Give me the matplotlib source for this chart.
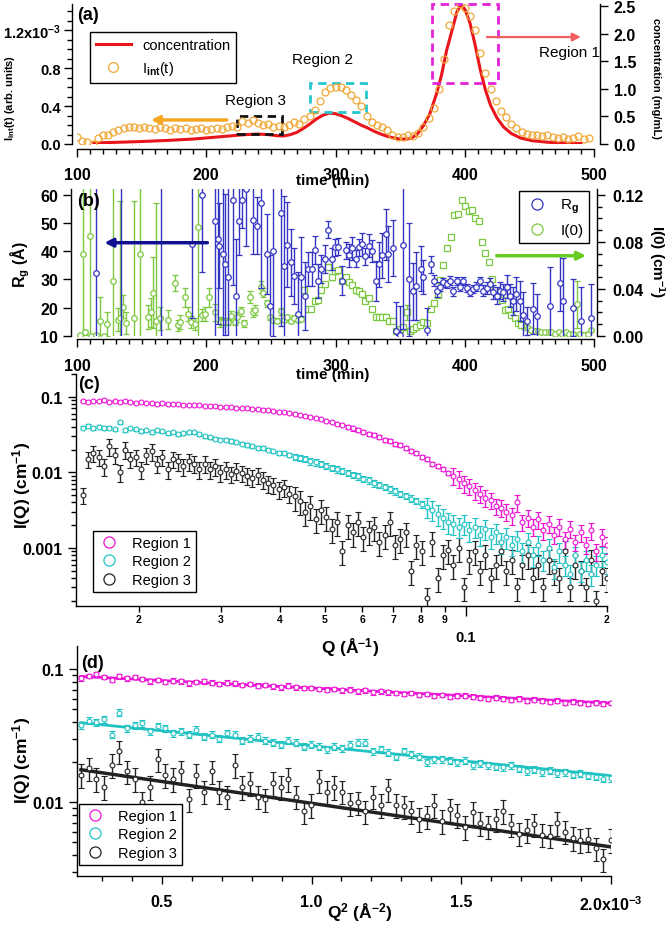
import numpy as np
import matplotlib
matplotlib.use('Agg')
import matplotlib.pyplot as plt
from matplotlib.ticker import MultipleLocator, FixedLocator, FixedFormatter, NullFormatter, LogLocator
from matplotlib.lines import Line2D
from matplotlib.patches import Rectangle

plt.rcParams['font.family'] = ['Liberation Sans', 'DejaVu Sans']
plt.rcParams['font.weight'] = 'bold'
plt.rcParams['mathtext.fontset'] = 'custom'
plt.rcParams['mathtext.rm'] = 'Liberation Sans'
plt.rcParams['mathtext.bf'] = 'Liberation Sans:bold'
plt.rcParams['mathtext.it'] = 'Liberation Sans:italic'
plt.rcParams['axes.linewidth'] = 1.0

#%% data (a): integrated intensity and concentration vs time
time_a = np.arange(100, 500, 4)
iint = [0.07, 0.03, 0.02, 0.00, 0.06, 0.09, 0.10, 0.13, 0.15, 0.17,
        0.18, 0.18, 0.17, 0.18, 0.17, 0.16, 0.18, 0.17, 0.15, 0.17,
        0.16, 0.17, 0.15, 0.16, 0.17, 0.15, 0.16, 0.17, 0.16, 0.18,
        0.19, 0.18, 0.24, 0.22, 0.25, 0.22, 0.20, 0.21, 0.18, 0.19,
        0.18, 0.20, 0.23, 0.21, 0.26, 0.30, 0.36, 0.45, 0.55, 0.59,
        0.60, 0.60, 0.57, 0.52, 0.46, 0.40, 0.30, 0.23, 0.20, 0.18,
        0.15, 0.10, 0.07, 0.07, 0.09, 0.08, 0.12, 0.18, 0.27, 0.38,
        0.58, 0.90, 1.25, 1.40, 1.47, 1.43, 1.35, 1.20, 0.96, 0.75,
        0.58, 0.45, 0.35, 0.28, 0.21, 0.17, 0.13, 0.11, 0.10, 0.09,
        0.08, 0.09, 0.07, 0.06, 0.07, 0.05, 0.06, 0.08, 0.05, 0.06]  # x1e-3
conc_t = [113, 130, 150, 170, 190, 210, 220, 230, 240, 248, 255, 260, 265, 270, 275,
          280, 285, 290, 295, 300, 305, 310, 315, 320, 325, 330, 335, 340, 345, 350,
          355, 358, 363, 368, 373, 378, 382, 386, 390, 394, 397, 400, 404, 408, 412,
          416, 420, 425, 430, 436, 443, 452, 465, 480, 490]
conc = [0.02, 0.03, 0.045, 0.065, 0.09, 0.13, 0.15, 0.17, 0.18, 0.17, 0.15, 0.145, 0.17, 0.21, 0.28,
        0.36, 0.45, 0.52, 0.56, 0.55, 0.51, 0.46, 0.40, 0.34, 0.29, 0.23, 0.18, 0.14, 0.11, 0.09,
        0.09, 0.10, 0.17, 0.33, 0.55, 0.90, 1.25, 1.70, 2.05, 2.40, 2.52, 2.45, 2.20, 1.80, 1.35,
        0.98, 0.70, 0.47, 0.31, 0.19, 0.11, 0.06, 0.03, 0.015, 0.01]

#%% data (b): Rg and I(0) vs time
rg_t = [115, 134, 165, 189, 197, 207, 209, 210, 212.7, 214.6, 217, 220.5, 223, 225, 227.6,
        231, 236.4, 239, 242, 246.8, 249, 252, 257.6, 260, 262.7, 265.6, 268, 270.7, 273.6, 276.5,
        279, 281.6, 284, 286.7, 289, 292, 294.5, 297.4, 299.7, 302, 304.8, 308, 310.5, 313, 315.5,
        318, 320.7, 323, 325.7, 328.3, 331, 333.6, 336, 339, 341, 344.7, 347, 349.6, 352.4, 357,
        360, 362.6, 366, 368, 371, 373.6, 376, 378.7, 381, 383.5, 386, 388.7, 391, 393.7, 396,
        399, 401.5, 404, 406.7, 409, 411.7, 414.5, 417, 419.5, 422, 424.7, 427, 429.7, 432.5, 435,
        437.5, 440, 442.5, 445, 448, 453, 456, 466, 474, 476, 484, 490, 498]
rg = [32.3, 66, 66, 42.4, 59.8, 50.8, 44.4, 42, 39, 35.3, 31, 58.2, 24.3, 50.8, 58.2,
      62, 51, 49, 57, 39, 20.6, 40, 53.5, 34.6, 42.3, 36, 31.3, 17.8, 31, 24,
      33.8, 33.8, 40.3, 29.6, 33.8, 37.3, 47.6, 37.3, 41.4, 41.5, 29.6, 40.3, 38.5, 41, 37.3,
      41.4, 42.4, 38.2, 42, 40, 29.4, 35.3, 38.5, 46, 39, 41.2, 11.9, 10.5, 42.3, 30,
      25.8, 27.8, 33.8, 31, 12, 35.3, 29.6, 25.8, 27.5, 29.0, 28.4, 29.6, 25.8, 29.4, 27.3,
      29.4, 27.0, 25.5, 26.7, 27.5, 29.4, 26.0, 27.0, 28.4, 25.5, 24.3, 26.0, 25.5, 27.5, 24.3,
      22.5, 25.0, 22.3, 17.5, 15.4, 19.6, 17, 20.5, 28.7, 22.5, 20, 15.4, 16.4]
rg_err = [40, 60, 60, 26, 27, 42, 30, 15, 30, 25, 35, 30, 20, 12, 10,
          20, 12, 10, 30, 14, 18, 30, 40, 25, 15, 12, 10, 15, 14, 12,
          6, 6, 5, 6, 5, 5, 3, 4, 3, 3, 5, 3, 4, 4, 3,
          3, 4, 3, 4, 4, 7, 8, 8, 9, 10, 10, 10, 10, 30, 20,
          10, 12, 8, 6, 8, 3, 2, 2, 1.5, 1.5, 1.5, 1.5, 1.5, 1.5, 1.5,
          1.5, 1.5, 1.5, 1.5, 1.5, 1.5, 2, 2, 2, 2.5, 3, 3, 3, 4, 4,
          5, 6, 7, 8, 5, 9, 8, 14, 10, 15, 10, 12, 12]

i0_t = [102, 105, 106, 110, 111, 115, 118, 121, 123, 128, 131.5, 133, 135.6, 138, 144,
        149, 155, 157, 159, 161, 164, 170.5, 176, 178, 180, 183.6, 186, 188, 191, 193.6,
        196.5, 199, 202, 207, 211, 213, 217, 219, 222, 224, 227, 229, 234, 236, 238,
        242, 244, 246.8, 249, 251.6, 255, 257.6, 260, 262.7, 265.6, 268, 270.7, 273.6, 275.8, 278.5,
        281, 284, 286.7, 289, 292, 294.5, 297.4, 299.7, 302, 304.8, 308, 310.5, 313, 315.6, 318,
        320.7, 323, 325.7, 328.3, 331, 333.6, 336, 339, 341.6, 344.7, 347, 349.6, 352.4, 355, 357.6,
        360, 362.6, 365, 368, 371, 373.6, 376, 379, 381, 383.5, 386.5, 389, 392, 395, 397.6,
        400, 403, 405.7, 408, 411, 413, 416, 418.5, 421, 423.6, 426, 428.7, 431, 433.6, 436,
        438.6, 441, 443.6, 446, 448.7, 451, 454, 457, 459, 462, 465, 467, 470, 473, 475,
        478, 481, 484, 486.6, 489, 492, 495, 498]
i0 = [0.001, 0.07, 0.003, 0.085, 0.0, 0.001, 0.013, 0.0, 0.01, 0.047, 0.014, 0.015, 0.025, 0.011, 0.015,
      0.07, 0.016, 0.02, 0.037, 0.013, 0.015, 0.014, 0.045, 0.009, 0.012, 0.033, 0.019, 0.012, 0.01, 0.093,
      0.018, 0.019, 0.033, 0.02, 0.012, 0.012, 0.012, 0.017, 0.012, 0.016, 0.021, 0.011, 0.033, 0.02, 0.022,
      0.042, 0.037, 0.028, 0.016, 0.0137, 0.013, 0.021, 0.0137, 0.016, 0.013, 0.0155, 0.0137, 0.0145, 0.039, 0.023,
      0.023, 0.030, 0.031, 0.039, 0.044, 0.059, 0.050, 0.055, 0.056, 0.047, 0.050, 0.046, 0.043, 0.039, 0.038,
      0.036, 0.030, 0.032, 0.023, 0.0165, 0.0165, 0.0165, 0.0165, 0.013, 0.013, 0.0045, 0.006, 0.0075, 0.020, 0.0045,
      0.006, 0.008, 0.0095, 0.012, 0.011, 0.023, 0.028, 0.035, 0.048, 0.060, 0.075, 0.084, 0.103, 0.104, 0.116,
      0.111, 0.106, 0.107, 0.100, 0.098, 0.080, 0.071, 0.063, 0.0485, 0.039, 0.035, 0.031, 0.022, 0.023, 0.018,
      0.0155, 0.011, 0.0093, 0.008, 0.007, 0.005, 0.004, 0.004, 0.003, 0.003, 0.003, 0.003, 0.002, 0.003, 0.002,
      0.003, 0.002, 0.002, 0.027, 0.002, 0.001, 0.002, 0.005]
i0_err = [0.001, 0.12, 0.002, 0.12, 0.001, 0.001, 0.02, 0.001, 0.01, 0.12, 0.01, 0.1, 0.01, 0.009, 0.1,
          0.12, 0.01, 0.012, 0.03, 0.1, 0.01, 0.008, 0.007, 0.005, 0.006, 0.008, 0.006, 0.005, 0.005, 0.12,
          0.005, 0.006, 0.008, 0.007, 0.004, 0.003, 0.003, 0.004, 0.003, 0.004, 0.004, 0.003, 0.005, 0.004, 0.004,
          0.005, 0.004, 0.003, 0.002, 0.002, 0.002, 0.003, 0.002, 0.002, 0.002, 0.002, 0.002, 0.002, 0.002, 0.002,
          0.002, 0.002, 0.002, 0.002, 0.002, 0.002, 0.002, 0.002, 0.002, 0.002, 0.002, 0.002, 0.002, 0.002, 0.002,
          0.002, 0.002, 0.002, 0.002, 0.002, 0.002, 0.002, 0.002, 0.002, 0.002, 0.002, 0.002, 0.002, 0.006, 0.002,
          0.002, 0.002, 0.002, 0.002, 0.002, 0.002, 0.002, 0.002, 0.001, 0.001, 0.001, 0.001, 0.001, 0.001, 0.001,
          0.001, 0.001, 0.001, 0.001, 0.001, 0.001, 0.001, 0.001, 0.001, 0.001, 0.001, 0.001, 0.001, 0.001, 0.001,
          0.001, 0.001, 0.001, 0.001, 0.001, 0.001, 0.001, 0.001, 0.001, 0.001, 0.001, 0.001, 0.001, 0.001, 0.001,
          0.001, 0.001, 0.001, 0.02, 0.001, 0.001, 0.001, 0.001]

#%% data (c): I(Q) vs Q for the three regions
q_c = np.geomspace(0.0152, 0.2, 100)
reg1_c = [0.088, 0.086, 0.089, 0.087, 0.090, 0.086, 0.087, 0.085, 0.088, 0.084,
          0.083, 0.085, 0.082, 0.083, 0.081, 0.082, 0.080, 0.079, 0.080, 0.078,
          0.078, 0.077, 0.078, 0.076, 0.075, 0.075, 0.074, 0.073, 0.073, 0.072,
          0.071, 0.070, 0.069, 0.068, 0.067, 0.066, 0.065, 0.063, 0.062, 0.061,
          0.059, 0.057, 0.056, 0.054, 0.052, 0.050, 0.048, 0.046, 0.044, 0.042,
          0.040, 0.038, 0.036, 0.034, 0.032, 0.031, 0.029, 0.027, 0.026, 0.024,
          0.023, 0.021, 0.019, 0.018, 0.016, 0.015, 0.013, 0.012, 0.011, 0.0098,
          0.0090, 0.0082, 0.0072, 0.0066, 0.0058, 0.0052, 0.0046, 0.0043, 0.0036, 0.0034,
          0.0030, 0.0027, 0.0040, 0.0022, 0.0025, 0.0019, 0.0024, 0.0017, 0.0021, 0.0015,
          0.0019, 0.0013, 0.0018, 0.0012, 0.0016, 0.0011, 0.0017, 0.0009, 0.0014, 0.0011]
reg2_c = [0.039, 0.041, 0.038, 0.040, 0.038, 0.039, 0.037, 0.046, 0.036, 0.038,
          0.037, 0.035, 0.036, 0.034, 0.036, 0.035, 0.033, 0.034, 0.032, 0.033,
          0.034, 0.034, 0.032, 0.030, 0.029, 0.028, 0.027, 0.027, 0.026, 0.025,
          0.024, 0.023, 0.022, 0.021, 0.021, 0.020, 0.019, 0.018, 0.018, 0.017,
          0.016, 0.0155, 0.015, 0.014, 0.0135, 0.013, 0.0122, 0.0115, 0.011, 0.0104,
          0.0098, 0.0092, 0.0088, 0.0082, 0.0078, 0.0072, 0.0068, 0.0064, 0.0060, 0.0056,
          0.0052, 0.0049, 0.0045, 0.0042, 0.0038, 0.0035, 0.0032, 0.0028, 0.0025, 0.0022,
          0.0021, 0.0019, 0.0021, 0.0017, 0.0019, 0.0015, 0.0018, 0.0014, 0.0016, 0.0012,
          0.0014, 0.0011, 0.0013, 0.0009, 0.0012, 0.0008, 0.0011, 0.0007, 0.0010, 0.00055,
          0.0009, 0.0006, 0.00045, 0.0008, 0.0005, 0.0007, 0.00045, 0.0006, 0.0008, 0.00065]
reg3_c = [0.0050, 0.015, 0.018, 0.016, 0.012, 0.022, 0.017, 0.010, 0.020, 0.015,
          0.016, 0.011, 0.017, 0.019, 0.013, 0.016, 0.011, 0.015, 0.014, 0.012,
          0.014, 0.013, 0.011, 0.013, 0.011, 0.012, 0.010, 0.011, 0.0095, 0.0105,
          0.0098, 0.0090, 0.0085, 0.0092, 0.0080, 0.0072, 0.0068, 0.0060, 0.0063, 0.0052,
          0.0048, 0.0042, 0.0030, 0.0036, 0.0024, 0.0032, 0.0026, 0.0018, 0.0022, 0.0009,
          0.0020, 0.0016, 0.0022, 0.0014, 0.0017, 0.0019, 0.0012, 0.0015, 0.0022, 0.0011,
          0.0013, 0.0016, 0.0005, 0.0011, 0.0009, 0.00022, 0.0012, 0.0004, 0.0008, 0.00095,
          0.0006, 0.0010, 0.0003, 0.0007, 0.0009, 0.0005, 0.0008, 0.0004, 0.0006, 0.0009,
          0.0005, 0.0007, 0.0003, 0.0006, 0.0008, 0.0004, 0.0006, 0.0003, 0.0007, 0.0005,
          0.0004, 0.0009, 0.0003, 0.0006, 0.0005, 0.0003, 0.0007, 0.0002, 0.0005, 0.0004]
rel1_c = [0.03] * 50 + [0.06] * 20 + [0.25] * 30
rel2_c = [0.05] * 40 + [0.10] * 25 + [0.30] * 35
rel3_c = [0.25] * 40 + [0.35] * 60

#%% data (d): Guinier plot
q2_d = np.linspace(0.23e-3, 2.0e-3, 70)
reg1_d = [0.085, 0.089, 0.091, 0.087, 0.083, 0.088, 0.085, 0.087, 0.084, 0.081,
          0.083, 0.080, 0.082, 0.081, 0.078, 0.080, 0.081, 0.079, 0.077, 0.079,
          0.078, 0.076, 0.077, 0.075, 0.076, 0.074, 0.073, 0.075, 0.073, 0.072,
          0.072, 0.071, 0.070, 0.071, 0.069, 0.070, 0.068, 0.069, 0.067, 0.068,
          0.067, 0.066, 0.065, 0.066, 0.064, 0.065, 0.063, 0.064, 0.062, 0.063,
          0.063, 0.062, 0.061, 0.060, 0.061, 0.060, 0.059, 0.060, 0.058, 0.059,
          0.058, 0.057, 0.058, 0.056, 0.057, 0.056, 0.055, 0.056, 0.055, 0.0555]
reg2_d = [0.038, 0.041, 0.040, 0.042, 0.032, 0.047, 0.036, 0.038, 0.039, 0.034,
          0.037, 0.036, 0.033, 0.034, 0.032, 0.035, 0.031, 0.032, 0.030, 0.033,
          0.032, 0.029, 0.030, 0.031, 0.029, 0.028, 0.027, 0.029, 0.028, 0.026,
          0.027, 0.026, 0.025, 0.026, 0.0255, 0.027, 0.028, 0.028, 0.024, 0.025,
          0.0235, 0.022, 0.024, 0.023, 0.022, 0.020, 0.021, 0.021, 0.0205, 0.020,
          0.0205, 0.019, 0.0195, 0.019, 0.0185, 0.0182, 0.019, 0.0178, 0.017, 0.0175,
          0.0168, 0.0172, 0.0165, 0.0168, 0.0160, 0.0163, 0.0158, 0.0155, 0.0150, 0.0151]
reg3_d = [0.016, 0.018, 0.015, 0.013, 0.019, 0.024, 0.017, 0.015, 0.010, 0.013,
          0.021, 0.016, 0.015, 0.017, 0.0105, 0.016, 0.012, 0.017, 0.012, 0.011,
          0.019, 0.013, 0.014, 0.011, 0.0105, 0.014, 0.013, 0.015, 0.011, 0.0085,
          0.0095, 0.0145, 0.012, 0.013, 0.012, 0.0098, 0.0100, 0.0085, 0.011, 0.0095,
          0.0125, 0.0095, 0.0093, 0.0085, 0.0075, 0.0078, 0.0095, 0.0072, 0.0088, 0.0080,
          0.0065, 0.0084, 0.0070, 0.0066, 0.0074, 0.0086, 0.0068, 0.0058, 0.0062, 0.0068,
          0.0057, 0.0056, 0.0070, 0.0060, 0.0054, 0.0052, 0.0053, 0.0045, 0.0037, 0.0052]
rel1_d, rel2_d, rel3_d = 0.04, 0.06, 0.20
fit_q2 = [0.23e-3, 2.0e-3]
fit1 = [0.088, 0.0553]
fit2 = [0.0395, 0.0158]
fit3 = [0.0175, 0.0046]

#%% colours
ORANGE = '#f0a838'
RED = '#e8151b'
BLUE = '#3434c4'
GREEN = '#7cc840'
MAG = '#ec14d4'
CYAN = '#20c2c2'
BLK = '#222222'

W, H = 666, 928
fig = plt.figure(figsize=(W / 100, H / 100), dpi=100)


def box(l, t, r, b):
    return [l / W, 1 - b / H, (r - l) / W, (b - t) / H]


def ftext(x, y, s, **kw):
    fig.text(x / W, 1 - y / H, s, ha=kw.pop('ha', 'center'), va=kw.pop('va', 'center'), **kw)


def style(ax):
    ax.tick_params(which='major', direction='out', length=6, width=1, labelsize=11.5)
    ax.tick_params(which='minor', direction='out', length=3.5, width=1)


#%% (a)
ax_a = fig.add_axes(box(77, 5, 594, 145))
ax_a2 = ax_a.twinx()
ax_a.set_zorder(ax_a2.get_zorder() + 1)
ax_a.patch.set_visible(False)
ax_a2.plot(conc_t, conc, color=RED, lw=2.2)
ax_a.plot(time_a, np.array(iint) * 1e-3, 'o', ms=5, mfc='none', mec=ORANGE, mew=0.9)
ax_a.set_xlim(100, 500)
ax_a.set_ylim(0, 1.474e-3)
ax_a2.set_ylim(0, 2.54)
for a in (ax_a, ax_a2):
    a.spines['top'].set_visible(False)
    style(a)
ax_a.spines['right'].set_visible(False)
ax_a.spines['left'].set_position(('outward', 3.6))
ax_a.spines['bottom'].set_position(('outward', 3.6))
ax_a2.spines['left'].set_visible(False)
ax_a2.spines['bottom'].set_visible(False)
ax_a2.spines['right'].set_position(('outward', 4.3))
ax_a.xaxis.set_major_locator(MultipleLocator(100))
ax_a.xaxis.set_minor_locator(MultipleLocator(10))
ax_a.tick_params(axis='x', pad=7)
ax_a.tick_params(axis='y', labelsize=10.5, pad=2)
ax_a.yaxis.set_major_locator(FixedLocator([0, 0.4e-3, 0.8e-3, 1.2e-3]))
ax_a.yaxis.set_major_formatter(FixedFormatter(['0.0', '0.4', '0.8', r'1.2x10$^{\mathbf{-3}}$']))
ax_a.yaxis.set_minor_locator(MultipleLocator(0.1e-3))
ax_a2.yaxis.set_major_locator(MultipleLocator(0.5))
ax_a2.yaxis.set_major_formatter(matplotlib.ticker.FormatStrFormatter('%.1f'))
ax_a2.tick_params(axis='y', pad=4)

ax_a.add_patch(Rectangle((223.8, 0.105e-3), 34.8, 0.19e-3, fill=False, ec='#111111', lw=2, ls=(0, (3, 2)), clip_on=False))
ax_a.add_patch(Rectangle((280.3, 0.337e-3), 43.3, 0.305e-3, fill=False, ec='#26c6cc', lw=2, ls=(0, (3, 2)), clip_on=False))
ax_a.add_patch(Rectangle((374.7, 0.642e-3), 51.0, 0.832e-3, fill=False, ec='#e424d8', lw=2, ls=(0, (3, 2)), clip_on=False))
ax_a.annotate('', xy=(155, 0.253e-3), xytext=(218, 0.253e-3), annotation_clip=False,
              arrowprops=dict(arrowstyle='-|>', color='#f5a623', lw=2.5, mutation_scale=12))
ax_a.annotate('', xy=(492, 1.126e-3), xytext=(415, 1.126e-3), annotation_clip=False,
              arrowprops=dict(arrowstyle='-|>', color='#f06060', lw=1.6, mutation_scale=12))
ax_a.text(290, 0.895e-3, 'Region 2', fontsize=11, fontweight='normal', ha='center', va='center')
ax_a.text(238, 0.463e-3, 'Region 3', fontsize=11, fontweight='normal', ha='center', va='center')
ax_a.text(481, 0.968e-3, 'Region 1', fontsize=11, fontweight='normal', ha='center', va='center')
h_a = [Line2D([], [], color=RED, lw=2.2),
       Line2D([], [], ls='none', marker='o', ms=7, mfc='none', mec=ORANGE, mew=0.9)]
leg = ax_a.legend(h_a, ['concentration', r'I$_{\mathrm{int}}$(t)'], loc='upper left',
                  bbox_to_anchor=(90 / W, 1 - 33 / H), bbox_transform=fig.transFigure,
                  borderaxespad=0, fancybox=False, framealpha=1, edgecolor='black',
                  prop={'size': 10.5, 'weight': 'normal'}, handlelength=2.4, borderpad=0.4)
leg.get_frame().set_linewidth(1)

#%% (b)
ax_b = fig.add_axes(box(77, 190, 594, 337))
ax_b2 = ax_b.twinx()
ax_b.set_zorder(ax_b2.get_zorder() + 1)
ax_b.patch.set_visible(False)
i0_t_arr = np.array(i0_t)
sq = (i0_t_arr >= 275) & (i0_t_arr <= 445)
for m, mk in ((~sq, 'o'), (sq, 's')):
    ax_b2.errorbar(i0_t_arr[m], np.array(i0)[m], yerr=np.array(i0_err)[m], fmt=mk, ms=4,
                   mfc='white', mec=GREEN, mew=0.9, ecolor=GREEN, elinewidth=1, capsize=2, capthick=1)
ax_b.errorbar(rg_t, rg, yerr=rg_err, fmt='o', ms=4, mfc='white', mec=BLUE, mew=0.9,
              ecolor=BLUE, elinewidth=1, capsize=2, capthick=1)
ax_b.set_xlim(100, 500)
ax_b.set_ylim(10, 62)
ax_b2.set_ylim(0, 0.1251)
for a in (ax_b, ax_b2):
    a.spines['top'].set_visible(False)
    style(a)
ax_b.spines['right'].set_visible(False)
ax_b.spines['left'].set_position(('outward', 4))
ax_b.spines['bottom'].set_position(('outward', 2.2))
ax_b2.spines['left'].set_visible(False)
ax_b2.spines['bottom'].set_visible(False)
ax_b2.spines['right'].set_position(('outward', 2.2))
ax_b.xaxis.set_major_locator(MultipleLocator(100))
ax_b.xaxis.set_minor_locator(MultipleLocator(10))
ax_b.tick_params(axis='x', pad=8)
ax_b.yaxis.set_major_locator(MultipleLocator(10))
ax_b2.yaxis.set_major_locator(MultipleLocator(0.04))
ax_b2.yaxis.set_minor_locator(MultipleLocator(0.01))
ax_b2.yaxis.set_major_formatter(matplotlib.ticker.FormatStrFormatter('%.2f'))
ax_b2.tick_params(axis='y', pad=5)
ax_b.annotate('', xy=(119, 43), xytext=(203, 43), annotation_clip=False,
              arrowprops=dict(arrowstyle='-|>', color='#101090', lw=2.5, mutation_scale=12))
ax_b.annotate('', xy=(496, 38.4), xytext=(422.6, 38.4), annotation_clip=False,
              arrowprops=dict(arrowstyle='-|>', color='#66cc22', lw=2.5, mutation_scale=12))
h_b = [Line2D([], [], ls='none', marker='o', ms=8, mfc='none', mec=BLUE, mew=0.9),
       Line2D([], [], ls='none', marker='o', ms=8, mfc='none', mec=GREEN, mew=0.9)]
leg = ax_b.legend(h_b, [r'R$_{\mathrm{g}}$', 'I(0)'], loc='upper left',
                  bbox_to_anchor=(519 / W, 1 - 192 / H), bbox_transform=fig.transFigure,
                  borderaxespad=0, fancybox=False, framealpha=1, edgecolor='black',
                  prop={'size': 11, 'weight': 'normal'}, handlelength=1.5, borderpad=0.4)
leg.get_frame().set_linewidth(1)

#%% (c)
ax_c = fig.add_axes(box(76, 375, 607, 607))
q = np.array(q_c)
for vals, rel, col in ((reg3_c, rel3_c, BLK), (reg2_c, rel2_c, CYAN), (reg1_c, rel1_c, MAG)):
    v = np.array(vals)
    ax_c.errorbar(q, v, yerr=v * np.array(rel), fmt='o', ms=3.5, mfc='white', mec=col, mew=0.8,
                  ecolor=col, elinewidth=1, capsize=2, capthick=1)
ax_c.set_xscale('log')
ax_c.set_yscale('log')
ax_c.set_xlim(0.0147, 0.2)
ax_c.set_ylim(1.7e-4, 0.2)
for s in ('top', 'right'):
    ax_c.spines[s].set_visible(False)
style(ax_c)
ax_c.xaxis.set_major_locator(FixedLocator([0.1]))
ax_c.xaxis.set_major_formatter(FixedFormatter(['0.1']))
ax_c.xaxis.set_minor_locator(FixedLocator([0.02, 0.03, 0.04, 0.05, 0.06, 0.07, 0.08, 0.09, 0.2]))
ax_c.xaxis.set_minor_formatter(FixedFormatter(['2', '3', '4', '5', '6', '7', '8', '9', '2']))
ax_c.tick_params(axis='x', which='major', length=7, pad=10, labelsize=10.5)
ax_c.tick_params(axis='x', which='minor', length=4, pad=2, labelsize=7.5)
ax_c.yaxis.set_major_locator(FixedLocator([0.001, 0.01, 0.1]))
ax_c.yaxis.set_major_formatter(FixedFormatter(['0.001', '0.01', '0.1']))
ax_c.yaxis.set_minor_locator(LogLocator(base=10, subs=np.arange(2, 10)))
ax_c.yaxis.set_minor_formatter(NullFormatter())
h_c = [Line2D([], [], ls='none', marker='o', ms=8, mfc='none', mec=c, mew=0.9) for c in (MAG, CYAN, BLK)]
leg = ax_c.legend(h_c, ['Region 1', 'Region 2', 'Region 3'], loc='upper left',
                  bbox_to_anchor=(93 / W, 1 - 532 / H), bbox_transform=fig.transFigure,
                  borderaxespad=0, fancybox=False, framealpha=1, edgecolor='black',
                  prop={'size': 10.5, 'weight': 'normal'}, handlelength=1.5, borderpad=0.35,
                  labelspacing=0.3)
leg.get_frame().set_linewidth(1)

#%% (d)
ax_d = fig.add_axes(box(77, 647, 611, 877))
for vals, rel, col, fit, lw in ((reg3_d, rel3_d, BLK, fit3, 2.5), (reg2_d, rel2_d, CYAN, fit2, 2),
                                (reg1_d, rel1_d, MAG, fit1, 2)):
    v = np.array(vals)
    ax_d.plot(fit_q2, fit, color=col, lw=lw, zorder=1)
    ax_d.errorbar(q2_d, v, yerr=v * rel, fmt='o', ms=3.5, mfc='white', mec=col, mew=0.8,
                  ecolor=col, elinewidth=1, capsize=2, capthick=1, zorder=2)
ax_d.set_yscale('log')
ax_d.set_xlim(0.2167e-3, 2.0e-3)
ax_d.set_ylim(0.00278, 0.149)
for s in ('top', 'right'):
    ax_d.spines[s].set_visible(False)
style(ax_d)
ax_d.xaxis.set_major_locator(FixedLocator([0.5e-3, 1.0e-3, 1.5e-3, 2.0e-3]))
ax_d.xaxis.set_major_formatter(FixedFormatter(['0.5', '1.0', '1.5', r'2.0x10$^{\mathbf{-3}}$']))
ax_d.xaxis.set_minor_locator(MultipleLocator(0.1e-3))
ax_d.tick_params(axis='x', pad=7)
ax_d.yaxis.set_major_locator(FixedLocator([0.01, 0.1]))
ax_d.yaxis.set_major_formatter(FixedFormatter(['0.01', '0.1']))
ax_d.yaxis.set_minor_locator(LogLocator(base=10, subs=np.arange(2, 10)))
ax_d.yaxis.set_minor_formatter(NullFormatter())
leg = ax_d.legend(h_c, ['Region 1', 'Region 2', 'Region 3'], loc='upper left',
                  bbox_to_anchor=(79 / W, 1 - 805 / H), bbox_transform=fig.transFigure,
                  borderaxespad=0, fancybox=False, framealpha=1, edgecolor='black',
                  prop={'size': 10.5, 'weight': 'normal'}, handlelength=1.5, borderpad=0.35,
                  labelspacing=0.3)
leg.get_frame().set_linewidth(1)

#%% labels
ftext(333, 181, 'time (min)', fontsize=11)
ftext(333, 375, 'time (min)', fontsize=11)
ftext(10, 98, r'I$_{\mathbf{int}}$(t) (arb. units)', rotation=90, fontsize=8)
ftext(656, 78, 'concentration (mg/mL)', rotation=-90, fontsize=8)
ftext(20, 265, r'R$_{\mathbf{g}}$ (Å)', rotation=90, fontsize=11.5)
ftext(657, 262, r'I(0) (cm$^{\mathbf{-1}}$)', rotation=-90, fontsize=11)
ftext(22, 485, r'I(Q) (cm$^{\mathbf{-1}}$)', rotation=90, fontsize=12.5)
ftext(350, 648, r'Q (Å$^{\mathbf{-1}}$)', fontsize=12.5)
ftext(22, 760, r'I(Q) (cm$^{\mathbf{-1}}$)', rotation=90, fontsize=12.5)
ftext(360, 913, r'Q$^{\mathbf{2}}$ (Å$^{\mathbf{-2}}$)', fontsize=12.5)
ftext(77, 15, '(a)', fontsize=13, ha='left')
ftext(77, 202, '(b)', fontsize=13, ha='left')
ftext(78, 385, '(c)', fontsize=13, ha='left')
ftext(81, 663, '(d)', fontsize=13, ha='left')

fig.savefig('out.png', dpi=100)
